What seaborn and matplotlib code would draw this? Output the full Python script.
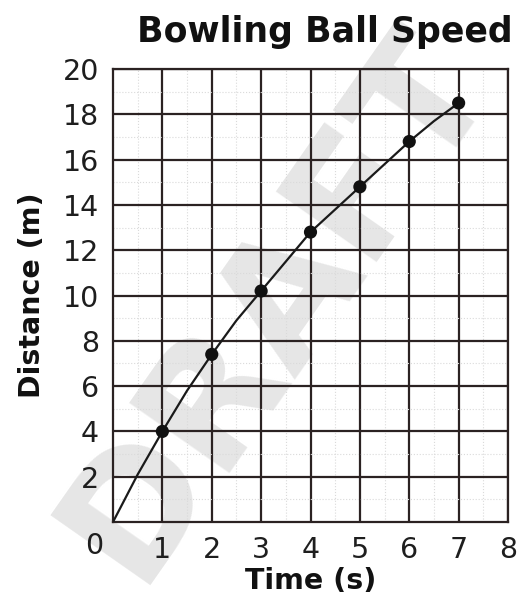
import numpy as np
import pandas as pd
import matplotlib
matplotlib.use("Agg")
import matplotlib.pyplot as plt
import seaborn as sns

# datos
tiempo = [1, 2, 3, 4, 5, 6, 7]
distancia = [4.0, 7.4, 10.2, 12.8, 14.8, 16.8, 18.5]

# curva dibujada (leida a medios segundos)
curva_t = [0, 0.5, 1, 1.5, 2, 2.5, 3, 3.5, 4, 4.5, 5, 5.5, 6, 6.5, 7]
curva_d = [0, 2.1, 4.0, 5.8, 7.4, 8.9, 10.2, 11.5, 12.8, 13.8, 14.8, 15.8, 16.8, 17.7, 18.5]

x_ticks = [1, 2, 3, 4, 5, 6, 7, 8]
y_ticks = [2, 4, 6, 8, 10, 12, 14, 16, 18, 20]

sns.set_style("white")
plt.rcParams['font.family'] = ['DejaVu Sans']

fig = plt.figure(figsize=(5.30, 6.06), dpi=100)

# marca de agua, detras del grafico
fig.text(0.52, 0.50, "DRAFT", fontsize=120, fontweight='bold', color='#e6e6e6',
         rotation=55, ha='center', va='center', zorder=0)

ax = fig.add_axes([0.2132, 0.1386, 0.7453, 0.7475])
ax.set_zorder(2)
ax.patch.set_alpha(0)

df_curva = pd.DataFrame({"t": curva_t, "d": curva_d})
df_pts = pd.DataFrame({"t": tiempo, "d": distancia})

sns.lineplot(data=df_curva, x="t", y="d", ax=ax, color="#1a1a1a", lw=1.6, zorder=3)
sns.scatterplot(data=df_pts, x="t", y="d", ax=ax, color="#111111", s=90,
                edgecolor="none", zorder=4)

ax.set_xlim(0, 8)
ax.set_ylim(0, 20)
ax.set_xticks(x_ticks)
ax.set_yticks(y_ticks)
ax.set_xticks(np.arange(0, 8.01, 0.5), minor=True)
ax.set_yticks(np.arange(0, 20.01, 1), minor=True)
ax.grid(which='major', color='#2b2222', lw=1.6, zorder=2)
ax.grid(which='minor', color='#dadada', lw=0.8, ls=':', zorder=1)
for s in ax.spines.values():
    s.set_color('#2b2222')
    s.set_linewidth(1.6)

ax.tick_params(which='both', length=0, labelsize=20.5, colors='#1e1e1e', pad=10)
ax.text(-0.38, -1.05, "0", fontsize=20.5, color='#1e1e1e', ha='center', va='center')

ax.set_xlabel("Time (s)", fontsize=20.5, fontweight='bold', labelpad=2, color='#111111')
ax.set_ylabel("Distance (m)", fontsize=20.5, fontweight='bold', labelpad=12, color='#111111')
fig.text(0.612, 0.948, "Bowling Ball Speed", fontsize=25, fontweight='bold',
         ha='center', va='center', color='#111111')

fig.savefig("out.png", dpi=100)
